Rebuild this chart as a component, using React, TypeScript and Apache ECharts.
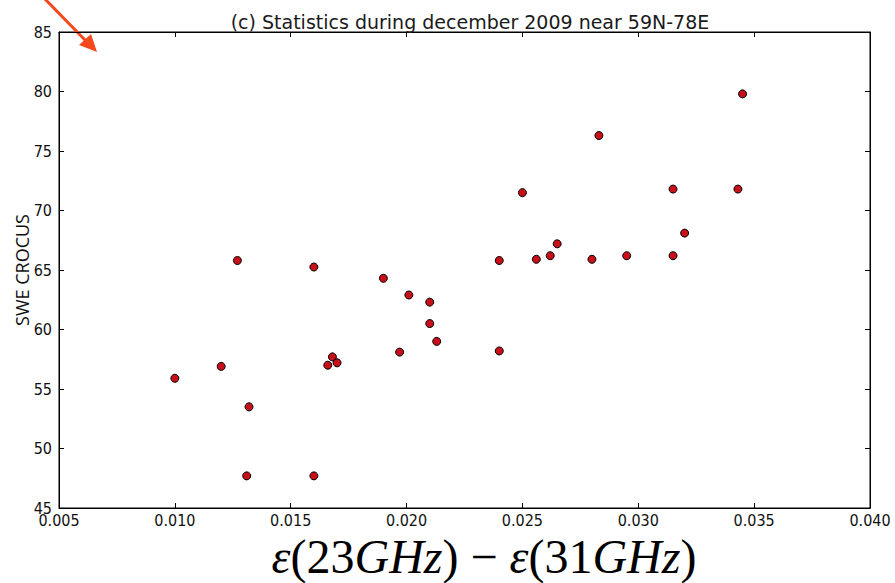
import React, { useEffect, useRef } from "react";
import * as echarts from "echarts";

const xValues = [
  0.01, 0.012, 0.0127, 0.0132, 0.0131, 0.016, 0.016, 0.0168, 0.0166, 0.017,
  0.019, 0.0201, 0.0197, 0.021, 0.021, 0.0213, 0.024, 0.024, 0.025, 0.0256,
  0.0262, 0.0265, 0.0283, 0.028, 0.0295, 0.0315, 0.0315, 0.032, 0.0343, 0.0345,
];
const yValues = [
  55.9, 56.9, 65.8, 53.5, 47.7, 65.25, 47.7, 57.7, 57.0, 57.2,
  64.3, 62.9, 58.1, 62.3, 60.5, 59.0, 65.8, 58.2, 71.5, 65.9,
  66.2, 67.2, 76.3, 65.9, 66.2, 71.8, 66.2, 68.1, 71.8, 79.8,
];
const xTicks = [0.005, 0.01, 0.015, 0.02, 0.025, 0.03, 0.035, 0.04];
const yTicks = [45, 50, 55, 60, 65, 70, 75, 80, 85];
const titleText = "(c) Statistics during december 2009 near 59N-78E";
const yName = "SWE CROCUS";

export default function App() {
  const ref = useRef<HTMLDivElement>(null);
  useEffect(() => {
    if (!ref.current) return;
    const chart = echarts.init(ref.current, null, { renderer: "svg" });
    const data = xValues.map((x, i) => [x, yValues[i]]);
    const tickFont = { fontFamily: "DejaVu Sans Condensed, DejaVu Sans", fontSize: 16, color: "#111" };
    chart.setOption({
      animation: false,
      backgroundColor: "#ffffff",
      title: {
        text: titleText,
        left: 465,
        textAlign: "center",
        top: 7,
        textStyle: { fontFamily: "DejaVu Sans", fontSize: 19, fontWeight: "normal", color: "#1a1a1a" },
      },
      grid: {
        left: 59, right: 25, top: 32, bottom: 75,
        containLabel: false,
        outerBoundsMode: "none",
        show: true, borderColor: "#000", borderWidth: 1, backgroundColor: "transparent",
      },
      xAxis: [
        {
          type: "value", min: xTicks[0], max: xTicks[xTicks.length - 1], interval: 0.005,
          position: "bottom",
          axisLine: { show: true, onZero: false, lineStyle: { color: "#000", width: 1 } },
          axisTick: { show: true, inside: true, length: 5, lineStyle: { color: "#000" } },
          splitLine: { show: false },
          axisLabel: { ...tickFont, margin: 4, formatter: (v: number) => v.toFixed(3) },
        },
        {
          type: "value", min: xTicks[0], max: xTicks[xTicks.length - 1], interval: 0.005,
          position: "top",
          axisLine: { show: true, onZero: false, lineStyle: { color: "#000", width: 1 } },
          axisTick: { show: true, inside: true, length: 5, lineStyle: { color: "#000" } },
          splitLine: { show: false },
          axisLabel: { show: false },
        },
      ],
      yAxis: [
        {
          type: "value", min: yTicks[0], max: yTicks[yTicks.length - 1], interval: 5,
          position: "left",
          name: yName, nameLocation: "middle", nameGap: 28, nameRotate: 90,
          nameMoveOverlap: false,
          nameTextStyle: { fontFamily: "Open Sans", fontSize: 18, color: "#111" },
          axisLine: { show: true, onZero: false, lineStyle: { color: "#000", width: 1 } },
          axisTick: { show: true, inside: true, length: 5, lineStyle: { color: "#000" } },
          splitLine: { show: false },
          axisLabel: { ...tickFont, margin: 7 },
        },
        {
          type: "value", min: yTicks[0], max: yTicks[yTicks.length - 1], interval: 5,
          position: "right",
          axisLine: { show: true, onZero: false, lineStyle: { color: "#000", width: 1 } },
          axisTick: { show: true, inside: true, length: 5, lineStyle: { color: "#000" } },
          splitLine: { show: false },
          axisLabel: { show: false },
        },
      ],
      series: [
        {
          type: "scatter",
          xAxisIndex: 0,
          yAxisIndex: 0,
          data,
          symbol: "circle",
          symbolSize: 8,
          itemStyle: { color: "#c8101a", borderColor: "#000", borderWidth: 1, opacity: 1 },
        },
      ],
      graphic: [
        {
          type: "text",
          x: 484,
          y: 556,
          style: {
            text: "{i|ε}{r|(23}{i|GHz}{r|)}{r| − }{i|ε}{r|(31}{i|GHz}{r|)}",
            align: "center",
            verticalAlign: "middle",
            rich: {
              i: { fontFamily: "Liberation Serif", fontStyle: "italic", fontSize: 48, fill: "#000" },
              r: { fontFamily: "Liberation Serif", fontSize: 48, fill: "#000" },
            },
          },
        },
        {
          type: "line",
          shape: { x1: 44, y1: -2, x2: 86, y2: 41 },
          style: { stroke: "#f4481c", lineWidth: 3 },
        },
        {
          type: "polygon",
          shape: { points: [[97, 52], [79, 45], [91, 34]] },
          style: { fill: "#f4481c" },
        },
      ],
    });
    return () => chart.dispose();
  }, []);
  return <div ref={ref} style={{ width: 895, height: 583, position: "absolute", left: 0, top: 0 }} />;
}
